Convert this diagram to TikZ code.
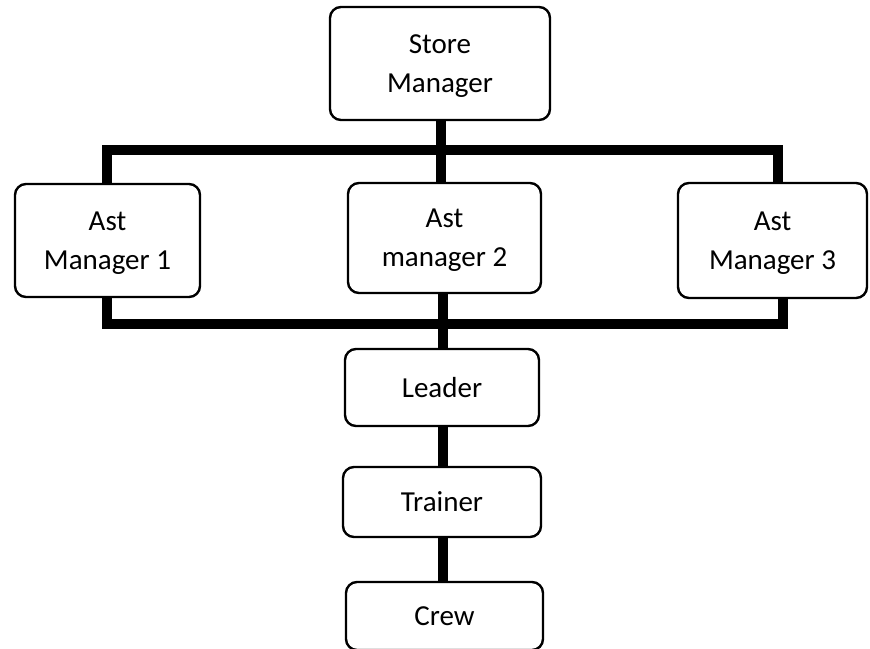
\documentclass[tikz,border=0pt]{standalone}
\usepackage{fontspec}
\setmainfont{Carlito}
\usetikzlibrary{backgrounds}
\begin{document}
\begin{tikzpicture}[x=1pt,y=-1pt,
  box/.style={draw=black, line width=2.4pt, rounded corners=11pt, fill=white,
    align=center, inner sep=0pt, text depth=0pt,
    font=\fontsize{29}{39}\selectfont},
  link/.style={line width=9.5pt, draw=black, line join=miter}]
\useasboundingbox (0,0) rectangle (870,648);
\node[box, minimum width=220pt, minimum height=113pt] (sm) at (440,63.5) {Store\\Manager};
\node[box, minimum width=185pt, minimum height=113pt] (am1) at (107.5,240.5) {Ast\\Manager 1};
\node[box, minimum width=193pt, minimum height=110pt] (am2) at (444.5,238) {Ast\\manager 2};
\node[box, minimum width=189pt, minimum height=115pt] (am3) at (772.5,240.5) {Ast\\Manager 3};
\node[box, minimum width=194pt, minimum height=77pt] (ld) at (442,387.5) {Leader};
\node[box, minimum width=198pt, minimum height=70pt] (trn) at (442,502) {Trainer};
\node[box, minimum width=197pt, minimum height=68pt] (cw) at (444.5,616) {Crew};
\coordinate (ctl) at (107,150);
\coordinate (ctr) at (778,150);
\coordinate (ctm) at (441,150);
\coordinate (cbl) at (107,324);
\coordinate (cbr) at (783,324);
\coordinate (cbm) at (443,324);
\begin{scope}[on background layer]
\fill[white] (0,0) rectangle (870,648);
\draw[link] (sm.south -| ctm) -- (am2.north -| ctm);
\draw[link] (am1.north -| ctl) -- (ctl) -- (ctr) -- (am3.north -| ctr);
\draw[link] (am1.south -| cbl) -- (cbl) -- (cbr) -- (am3.south -| cbr);
\draw[link] (am2.south -| cbm) -- (ld.north -| cbm);
\draw[link] (ld.south -| cbm) -- (trn.north -| cbm);
\draw[link] (trn.south -| cbm) -- (cw.north -| cbm);
\end{scope}
\end{tikzpicture}
\end{document}
